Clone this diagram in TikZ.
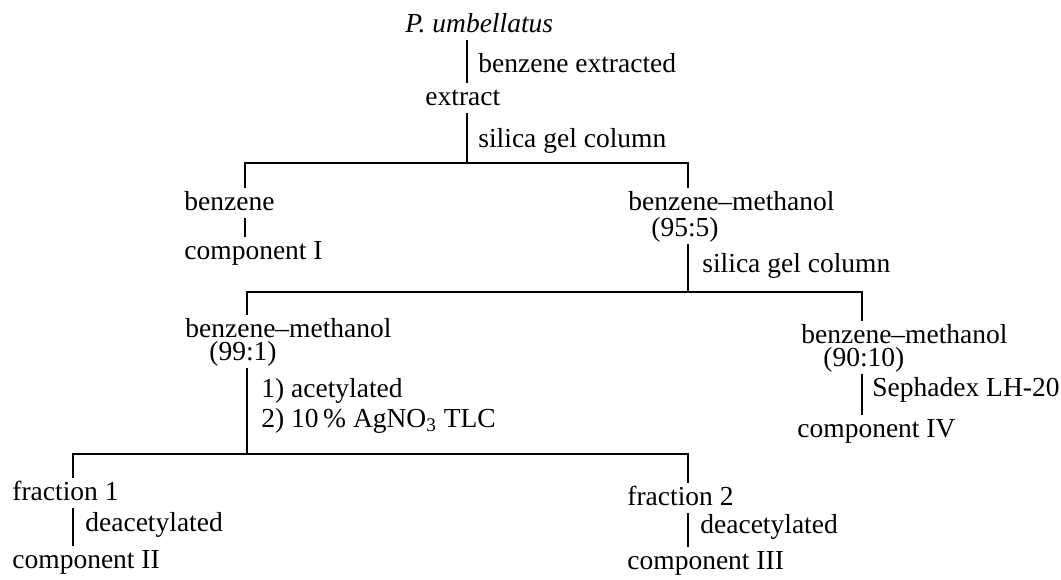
\documentclass[tikz,border=0pt]{standalone}
\usepackage{fontspec}
\setmainfont{Liberation Serif}
\tikzset{
  compound/.style={anchor=base west, inner sep=0pt, text height=11pt, text depth=4pt},
  mixture/.style={compound, text depth=0pt},
  ratio/.style={compound, text height=9pt},
  treat/.style={compound},
  link/.style={line width=0.6pt, draw=black},
}

\begin{document}
\begin{tikzpicture}[x=0.5pt,y=-0.5pt,font=\fontsize{13.75}{16}\selectfont]
  \useasboundingbox (0,0) rectangle (1061,579);
  \node[compound] (pu) at (405,32) {\textit{P.\ umbellatus}};
  \node[compound] (ext) at (425,105) {extract};
  \node[compound] (bz) at (184,210) {benzene};
  \node[compound] (c1) at (184,259) {component I};
  \node[mixture] (bm95) at (628,210) {benzene--methanol};
  \node[ratio] (r95) at (651,236) {(95:5)};
  \node[mixture] (bm99) at (185,337) {benzene--methanol};
  \node[ratio] (r99) at (209,360) {(99:1)};
  \node[mixture] (bm90) at (801,343) {benzene--methanol};
  \node[ratio] (r90) at (823,366) {(90:10)};
  \node[compound] (c4) at (797,437) {component IV};
  \node[compound] (fr1) at (12,500) {fraction 1};
  \node[compound] (c2) at (12,568) {component II};
  \node[compound] (fr2) at (627,505) {fraction 2};
  \node[compound] (c3) at (627,569) {component III};

  \node[treat] (t1) at (478,72) {benzene extracted};
  \node[treat] (t2) at (478,147) {silica gel column};
  \node[treat] (t3) at (702,272) {silica gel column};
  \node[treat] (t4) at (261,397) {1) acetylated};
  \node[treat] (t5) at (261,427) {2) 10\,\% AgNO\textsubscript{3} TLC};
  \node[treat] (t6) at (872,396) {Sephadex LH-20};
  \node[treat] (t7) at (85,531) {deacetylated};
  \node[treat] (t8) at (700,533) {deacetylated};

  \coordinate (j1) at (467,163);
  \coordinate (j1l) at (245,163);
  \coordinate (j1r) at (688,163);
  \coordinate (j2l) at (247,292);
  \coordinate (j2r) at (862,292);
  \coordinate (j3l) at (73,454);
  \coordinate (j3r) at (688,454);

  \draw[link] (pu.south -| j1) -- (ext.north -| j1);
  \draw[link] (ext.south -| j1) -- (j1);
  \draw[link] (bz.north -| j1l) |- (j1r) -- (bm95.north -| j1r);
  \draw[link] (bz.south -| j1l) -- (c1.north -| j1l);
  \draw[link] (r95.south -| j1r) -- (j1r |- j2r);
  \draw[link] (bm99.north -| j2l) |- (j2r) -- (bm90.north -| j2r);
  \draw[link] (r90.south -| j2r) -- (c4.north -| j2r);
  \draw[link] (r99.south -| j2l) -- (j2l |- j3l);
  \draw[link] (fr1.north -| j3l) |- (j3r) -- (fr2.north -| j3r);
  \draw[link] (fr1.south -| j3l) -- (c2.north -| j3l);
  \draw[link] (fr2.south -| j3r) -- (c3.north -| j3r);
\end{tikzpicture}
\end{document}
